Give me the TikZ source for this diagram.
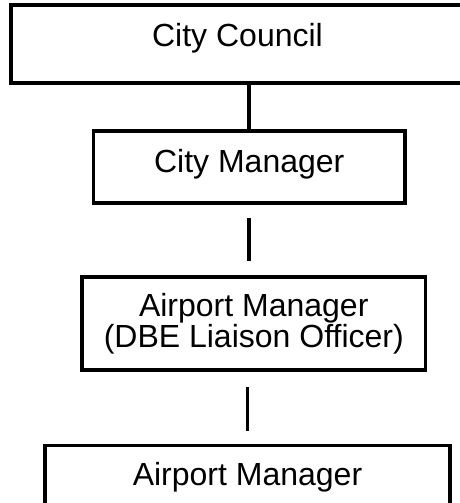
\documentclass[tikz,border=0pt]{standalone}
\usepackage{fontspec}
\setmainfont{Liberation Sans}
\begin{document}
\begin{tikzpicture}[x=1pt,y=1pt,
  box/.style={draw,line width=3.8pt,inner sep=0pt,align=center,font=\fontsize{32}{31.5}\selectfont},
  link/.style={line width=3.8pt}]
\useasboundingbox (0,0) rectangle (459,503);
\node[box,minimum width=453pt,minimum height=78pt,text height=23pt,text depth=17pt] (council) at (237.5,459) {City Council};
\node[box,minimum width=311.5pt,minimum height=72pt,text height=23pt,text depth=11pt] (manager) at (249.25,336) {City Manager};
\node[box,minimum width=343.5pt,minimum height=93pt] (liaison) at (253.75,179.5) {Airport Manager\\(DBE Liaison Officer)};
\node[box,minimum width=405pt,minimum height=63pt] (airport) at (247.5,26) {Airport Manager};
\draw[link] (manager.north) -- (manager.north |- council.south);
\draw[link,shorten <=13pt,shorten >=14pt] (manager.south) -- (manager.south |- liaison.north);
\draw[link,shorten <=15pt,shorten >=12.5pt] (airport.north |- liaison.south) -- (airport.north);
\end{tikzpicture}
\end{document}
